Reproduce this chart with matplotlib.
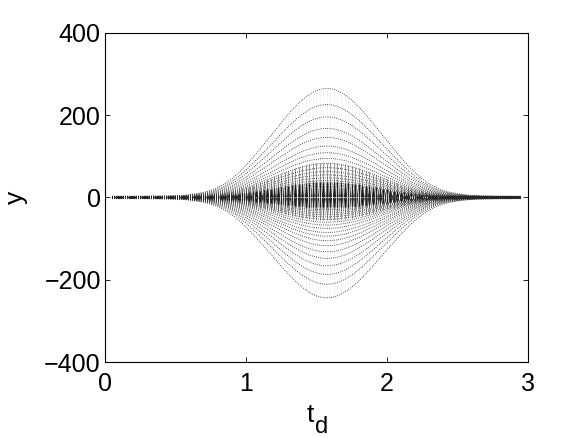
import numpy as np
import matplotlib
matplotlib.use("Agg")
import matplotlib.pyplot as plt

plt.rcParams['font.family'] = ['Liberation Sans', 'DejaVu Sans']

# time samples and normalised envelope
t_vals = [0.05, 0.075, 0.1, 0.125, 0.15, 0.175, 0.2, 0.225, 0.25, 0.275,
          0.3, 0.325, 0.35, 0.375, 0.4, 0.425, 0.45, 0.475, 0.5, 0.525,
          0.55, 0.575, 0.6, 0.625, 0.65, 0.675, 0.7, 0.725, 0.75, 0.775,
          0.8, 0.825, 0.85, 0.875, 0.9, 0.925, 0.95, 0.975, 1.0, 1.025,
          1.05, 1.075, 1.1, 1.125, 1.15, 1.175, 1.2, 1.225, 1.25, 1.275,
          1.3, 1.325, 1.35, 1.375, 1.4, 1.425, 1.45, 1.475, 1.5, 1.525,
          1.55, 1.575, 1.6, 1.625, 1.65, 1.675, 1.7, 1.725, 1.75, 1.775,
          1.8, 1.825, 1.85, 1.875, 1.9, 1.925, 1.95, 1.975, 2.0, 2.025,
          2.05, 2.075, 2.1, 2.125, 2.15, 2.175, 2.2, 2.225, 2.25, 2.275,
          2.3, 2.325, 2.35, 2.375, 2.4, 2.425, 2.45, 2.475, 2.5, 2.525,
          2.55, 2.575, 2.6, 2.625, 2.65, 2.675, 2.7, 2.725, 2.75, 2.775,
          2.8, 2.825, 2.85, 2.875, 2.9, 2.925, 2.95]
envelope = [0.012, 0.012, 0.012, 0.012, 0.012, 0.012, 0.012, 0.012, 0.012, 0.0125,
            0.013, 0.013, 0.013, 0.0135, 0.014, 0.0145, 0.015, 0.016, 0.017, 0.0185,
            0.020, 0.023, 0.027, 0.031, 0.036, 0.042, 0.048, 0.056, 0.066, 0.078,
            0.092, 0.109, 0.127, 0.149, 0.172, 0.199, 0.228, 0.261, 0.295, 0.331,
            0.368, 0.406, 0.445, 0.484, 0.523, 0.563, 0.603, 0.644, 0.684, 0.723,
            0.761, 0.798, 0.833, 0.865, 0.895, 0.921, 0.945, 0.964, 0.980, 0.991,
            0.998, 1.000, 0.998, 0.991, 0.980, 0.964, 0.945, 0.921, 0.895, 0.865,
            0.833, 0.798, 0.761, 0.723, 0.684, 0.644, 0.603, 0.563, 0.523, 0.484,
            0.445, 0.406, 0.368, 0.331, 0.295, 0.261, 0.228, 0.199, 0.172, 0.149,
            0.127, 0.109, 0.092, 0.078, 0.066, 0.056, 0.048, 0.042, 0.036, 0.031,
            0.027, 0.023, 0.020, 0.0185, 0.017, 0.016, 0.015, 0.0145, 0.014, 0.0135,
            0.013, 0.013, 0.013, 0.0125, 0.012, 0.012, 0.012]

# peak amplitudes of the curve family (upper and lower)
upper_levels = [265, 226, 196, 168, 146, 125, 109, 95, 83, 72.5, 63, 55, 47.5,
                41, 35.5, 31, 27, 23.5, 20.5, 18, 15.5, 13.5, 11.8, 10.3, 9,
                7.8, 6.8, 5.9, 5.1, 4.4, 3.8, 3.3, 2.8, 2.4, 2.0]
lower_levels = [-244, -211, -187, -166, -148, -132, -117, -105, -94, -85, -75,
                -67, -60, -53, -47, -42, -37.5, -33, -29.5, -26, -23, -20.5,
                -18, -16, -14, -12.5, -11, -9.8, -8.7, -7.7, -6.8, -6, -5.3,
                -4.7, -4.1, -3.6, -3.1, -2.7, -2.3, -2.0]

x_ticks = [0, 1, 2, 3]
y_ticks = [-400, -200, 0, 200, 400]

t = np.array(t_vals)
E = np.array(envelope)
up_min, up_max = min(upper_levels), max(upper_levels)
lo_min, lo_max = min(lower_levels), max(lower_levels)

fig = plt.figure(figsize=(5.82, 4.38), dpi=100)
ax = fig.add_axes([0.1804, 0.1735, 0.7263, 0.7512])

# vertical striations (oscillation connecting the levels), split at zero
for lo_end, hi_end in [(up_min, up_max), (lo_min, lo_max)]:
    ax.vlines(t, lo_end * E, hi_end * E, colors='0.94', linewidth=0.5, zorder=1)
for lo_end, hi_end in [(up_min, 85), (-55, lo_max)]:
    ax.vlines(t, lo_end * E, hi_end * E, colors='0.6', linewidth=0.8, zorder=1)
for lo_end, hi_end in [(up_min, 38), (-24, lo_max)]:
    ax.vlines(t, lo_end * E, hi_end * E, colors='0.1', linewidth=1.0, zorder=1)

for a in upper_levels + lower_levels:
    ax.plot(t, a * E, color='0.15', linewidth=0.6,
            linestyle=(0, (1, 1.6)), zorder=2)

ax.set_xlim(0, 3)
ax.set_ylim(-400, 400)
ax.set_xticks(x_ticks)
ax.set_yticks(y_ticks)
ax.tick_params(direction='in', length=3.5, width=0.6, labelsize=18,
               top=True, right=True)
ax.tick_params(axis='y', pad=3)
ax.tick_params(axis='x', pad=7)
for s in ax.spines.values():
    s.set_linewidth(0.8)

fig.text(0.527, 0.0365, 't', fontsize=19, ha='left', va='baseline')
fig.text(0.541, 0.0114, 'd', fontsize=17, ha='left', va='baseline')
ax.set_ylabel('y', fontsize=19, labelpad=12)

fig.savefig('out.png', dpi=100)
